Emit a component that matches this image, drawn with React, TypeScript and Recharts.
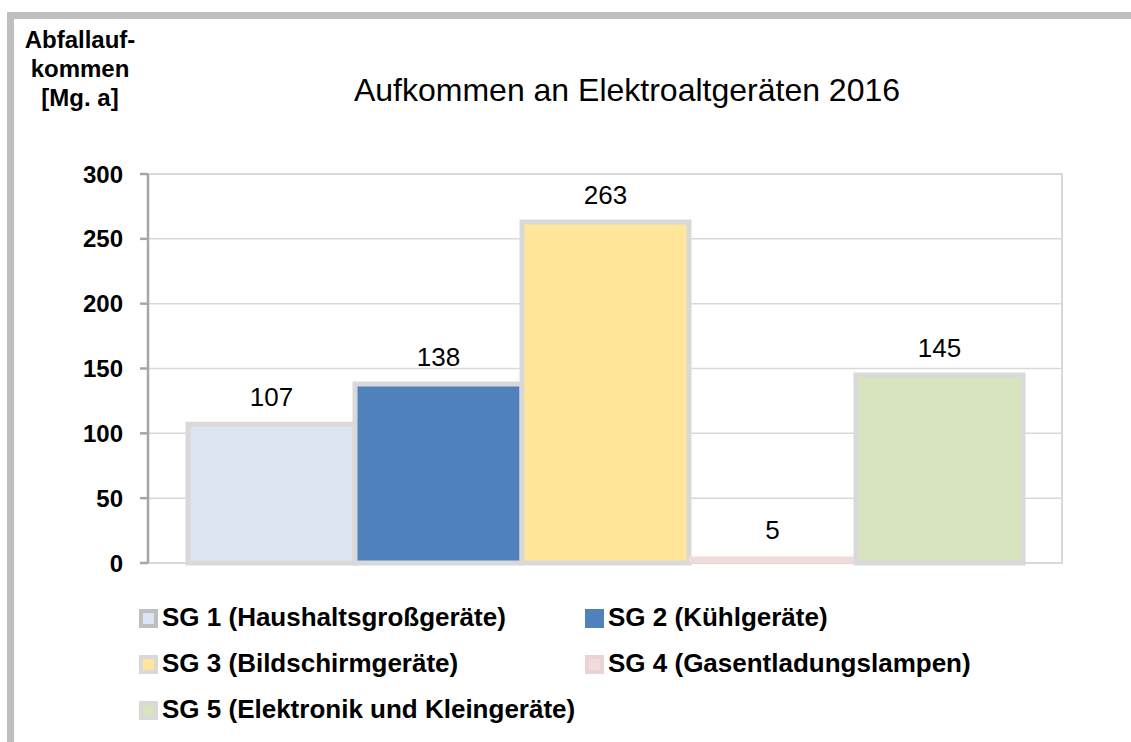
import {
  BarChart,
  Bar,
  XAxis,
  YAxis,
  CartesianGrid,
  ReferenceArea,
  LabelList,
  Legend,
} from 'recharts';

const categories = ['2016'];
const seriesKeys = ['sg1', 'sg2', 'sg3', 'sg4', 'sg5'];
const seriesNames = [
  'SG 1 (Haushaltsgroßgeräte)',
  'SG 2 (Kühlgeräte)',
  'SG 3 (Bildschirmgeräte)',
  'SG 4 (Gasentladungslampen)',
  'SG 5 (Elektronik und Kleingeräte)',
];
const seriesValues = [107, 138, 263, 5, 145];
const yTicks = [0, 50, 100, 150, 200, 250, 300];

const colors = ['#dce6f2', '#4f81bd', '#ffe699', '#f2dcdb', '#d7e4bd'];
const strokes = ['#d9d9d9', '#d9d9d9', '#d9d9d9', 'none', '#d9d9d9'];
const iconBorders = ['#bfbfbf', '#4f81bd', '#d9d9d9', '#ead3d2', '#d9d9d9'];

const FONT = '"Liberation Sans", Arial, sans-serif';

const data = categories.map((name) => {
  const row: Record<string, string | number> = { name };
  seriesKeys.forEach((k, i) => {
    row[k] = seriesValues[i];
  });
  return row;
});

function renderLegend(props: any) {
  const payload = props.payload || [];
  return (
    <div style={{ position: 'relative', height: 0 }}>
      {payload.map((entry: any, i: number) => {
        const col = i % 2;
        const row = Math.floor(i / 2);
        return (
          <div
            key={i}
            style={{
              position: 'absolute',
              left: col ? 585 : 139,
              top: row * 46,
              display: 'flex',
              alignItems: 'center',
              lineHeight: '30px',
              whiteSpace: 'nowrap',
            }}
          >
            <span
              style={{
                display: 'inline-block',
                width: 11,
                height: 11,
                background: colors[i],
                border: `4px solid ${iconBorders[i]}`,
                marginRight: 4,
                marginTop: 2,
              }}
            />
            <span
              style={{
                fontFamily: FONT,
                fontWeight: 'bold',
                fontSize: 26,
                color: '#000',
              }}
            >
              {entry.value}
            </span>
          </div>
        );
      })}
    </div>
  );
}

export default function App() {
  return (
    <div
      style={{
        position: 'absolute',
        left: 0,
        top: 0,
        width: 1131,
        height: 742,
        background: '#fff',
        fontFamily: FONT,
      }}
    >
      {/* frame */}
      <div style={{ position: 'absolute', left: 7, top: 12, width: 1124, height: 7, background: '#bfbfbf' }} />
      <div style={{ position: 'absolute', left: 7, top: 12, width: 7, height: 730, background: '#bfbfbf' }} />

      <div
        style={{
          position: 'absolute',
          left: 20,
          top: 25,
          width: 120,
          textAlign: 'center',
          fontWeight: 'bold',
          fontSize: 24,
          lineHeight: '29px',
          color: '#000',
        }}
      >
        Abfallauf-
        <br />
        kommen
        <br />
        [Mg. a]
      </div>
      <div
        style={{
          position: 'absolute',
          left: 327,
          top: 72,
          width: 600,
          textAlign: 'center',
          fontSize: 32,
          lineHeight: '36px',
          color: '#000',
        }}
      >
        Aufkommen an Elektroaltgeräten 2016
      </div>

      <BarChart
        width={1131}
        height={742}
        data={data}
        margin={{ top: 174, right: 69, bottom: 179, left: 88 }}
        barCategoryGap={40}
        barGap={0}
        style={{ position: 'absolute', left: 0, top: 0 }}
      >
        <CartesianGrid vertical={false} stroke="#d9d9d9" strokeWidth={1.5} />
        <ReferenceArea y1={0} y2={300} fill="none" stroke="#d9d9d9" strokeWidth={2} />
        <XAxis dataKey="name" hide />
        <YAxis
          width={60}
          domain={[0, 300]}
          ticks={yTicks}
          interval={0}
          axisLine={{ stroke: '#a6a6a6', strokeWidth: 2.5 }}
          tickLine={{ stroke: '#a6a6a6', strokeWidth: 2.5 }}
          tickSize={8}
          tickMargin={17}
          tick={{ fill: '#000', fontSize: 24, fontWeight: 'bold', fontFamily: FONT }}
        />
        {seriesKeys.map((k, i) => (
          <Bar
            key={k}
            dataKey={k}
            name={seriesNames[i]}
            fill={colors[i]}
            stroke={strokes[i]}
            strokeWidth={5}
            isAnimationActive={false}
          >
            <LabelList
              dataKey={k}
              position="top"
              offset={18}
              fill="#000"
              fontSize={26}
              fontFamily={FONT}
            />
          </Bar>
        ))}
        <Legend
          content={renderLegend}
          wrapperStyle={{ position: 'absolute', left: 0, top: 602, width: 1131, height: 0 }}
        />
      </BarChart>
    </div>
  );
}
